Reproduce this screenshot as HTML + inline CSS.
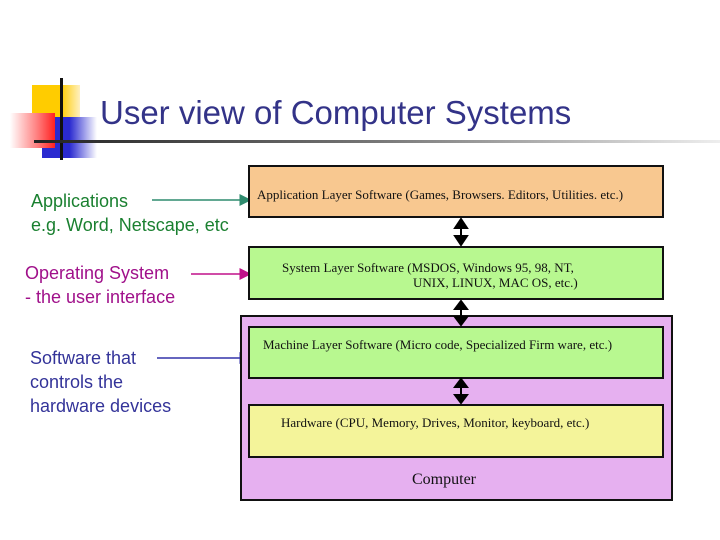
<!DOCTYPE html>
<html><head><style>
body{margin:0;width:720px;height:540px;background:#fff;position:relative;overflow:hidden;font-family:"Liberation Sans",sans-serif}
.a{position:absolute}
.box{position:absolute;border:2px solid #111;box-sizing:border-box;font-family:"Liberation Serif",serif;font-size:13px;color:#111}
.lbl{position:absolute;font-size:18px;line-height:24px}
</style></head><body>
<div class="a" style="left:32px;top:85px;width:48px;height:42px;background:linear-gradient(90deg,#ffcc00 60%,#fff0c0)"></div>
<div class="a" style="left:42px;top:117px;width:55px;height:41px;background:linear-gradient(90deg,#2a2ad0 50%,#fff)"></div>
<div class="a" style="left:10px;top:113px;width:45px;height:35px;background:linear-gradient(90deg,#fff,#ff8080 60%,#ff2020)"></div>
<div class="a" style="left:60px;top:78px;width:3px;height:82px;background:#111"></div>
<div class="a" style="left:34px;top:140px;width:686px;height:3px;background:linear-gradient(90deg,#222,#777 50%,#eee)"></div>
<div class="a" style="left:100px;top:94px;font-size:33px;color:#333388;white-space:nowrap">User view of Computer Systems</div>

<div class="lbl" style="left:31px;top:189px;color:#1a8030">Applications<br>e.g. Word, Netscape, etc</div>
<div class="lbl" style="left:25px;top:261px;color:#a0108a">Operating System<br>- the user interface</div>
<div class="lbl" style="left:30px;top:346px;color:#333399">Software that<br>controls the<br>hardware devices</div>

<svg class="a" style="left:0;top:0" width="720" height="540">
<defs>
<marker id="g" markerWidth="8" markerHeight="8" refX="7" refY="4" orient="auto"><path d="M0,0L8,4L0,8z" fill="#2e8b6e"/></marker>
<marker id="m" markerWidth="8" markerHeight="8" refX="7" refY="4" orient="auto"><path d="M0,0L8,4L0,8z" fill="#c0108a"/></marker>
<marker id="b" markerWidth="8" markerHeight="8" refX="7" refY="4" orient="auto"><path d="M0,0L8,4L0,8z" fill="#3333aa"/></marker>
</defs>
<line x1="152" y1="200" x2="250" y2="200" stroke="#2e8b6e" stroke-width="1.5" marker-end="url(#g)"/>
<line x1="191" y1="274" x2="250" y2="274" stroke="#c0108a" stroke-width="1.5" marker-end="url(#m)"/>
<line x1="157" y1="358" x2="250" y2="358" stroke="#3333aa" stroke-width="1.5" marker-end="url(#b)"/>
</svg>

<div class="box" style="left:240px;top:315px;width:433px;height:186px;background:#e6b0f0"></div>
<div class="box" style="left:248px;top:165px;width:416px;height:53px;background:#f8c890;padding:20px 0 0 7px">Application Layer Software (Games, Browsers. Editors, Utilities. etc.)</div>
<div class="box" style="left:248px;top:246px;width:416px;height:54px;background:#b8f890;padding:12px 0 0 32px;line-height:15px">System Layer Software (MSDOS, Windows 95, 98, NT,<br><span style="padding-left:131px">UNIX, LINUX, MAC OS, etc.)</span></div>
<div class="box" style="left:248px;top:326px;width:416px;height:53px;background:#b8f890;padding:9px 0 0 13px">Machine Layer Software (Micro code, Specialized Firm ware, etc.)</div>
<div class="box" style="left:248px;top:404px;width:416px;height:54px;background:#f4f49a;padding:9px 0 0 31px">Hardware (CPU, Memory, Drives, Monitor, keyboard, etc.)</div>
<div class="a" style="left:412px;top:471px;font-family:'Liberation Serif',serif;font-size:16px;color:#111">Computer</div>

<svg class="a" style="left:0;top:0" width="720" height="540">
<g fill="#000" stroke="#000" stroke-width="2">
<line x1="461" y1="224" x2="461" y2="240"/><path d="M455,228L461,219L467,228z"/><path d="M455,236L461,245L467,236z"/>
<line x1="461" y1="305" x2="461" y2="320"/><path d="M455,309L461,301L467,309z"/><path d="M455,317L461,325L467,317z"/>
<line x1="461" y1="383" x2="461" y2="399"/><path d="M455,387L461,379L467,387z"/><path d="M455,395L461,403L467,395z"/>
</g></svg>
</body></html>
